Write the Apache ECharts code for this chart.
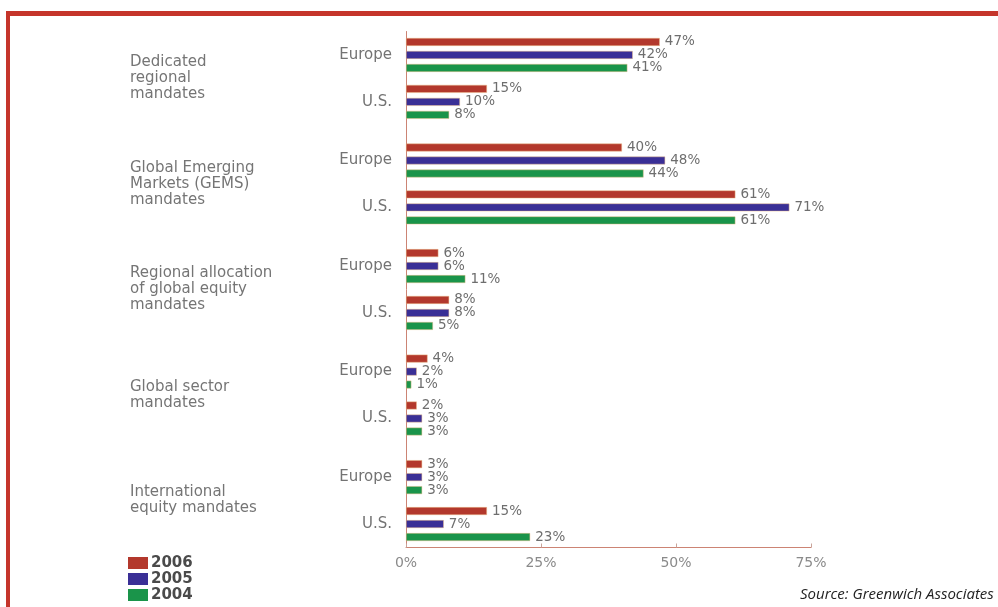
<!DOCTYPE html>
<html>
<head>
<meta charset="utf-8">
<script src="https://cdn.jsdelivr.net/npm/echarts@6/dist/echarts.min.js"></script>
<style>
html,body{margin:0;padding:0;background:#fff;}
#chart{width:998px;height:607px;}
</style>
</head>
<body>
<div id="chart"></div>
<script>
// ---- data ----
const groups = [
  'Dedicated\nregional\nmandates',
  'Global Emerging\nMarkets (GEMS)\nmandates',
  'Regional allocation\nof global equity\nmandates',
  'Global sector\nmandates',
  'International\nequity mandates'
];
const regions = ['Europe', 'U.S.'];
const years = ['2006', '2005', '2004'];
// order: group1 Europe, group1 U.S., group2 Europe, ...
const v2006 = [47, 15, 40, 61, 6, 8, 4, 2, 3, 15];
const v2005 = [42, 10, 48, 71, 6, 8, 2, 3, 3, 7];
const v2004 = [41, 8, 44, 61, 11, 5, 1, 3, 3, 23];
const xTicks = [0, 25, 50, 75];
const colors = ['#b3382c', '#3a2f96', '#1a944a'];

// ---- build padded category slots (uneven spacing between groups) ----
const SLOTS_PER_GROUP = 9;
const N = groups.length * SLOTS_PER_GROUP;
function slotOf(g, r) { return 2 + g * SLOTS_PER_GROUP + r * 4; }
const regionCats = new Array(N).fill('');
const groupCats = new Array(N).fill('');
groups.forEach((gname, g) => {
  regions.forEach((rname, r) => { regionCats[slotOf(g, r)] = rname; });
  groupCats[2 + g * SLOTS_PER_GROUP + 2] = gname;
});
function pad(vals) {
  const arr = new Array(N).fill('-');
  vals.forEach((v, i) => {
    const g = Math.floor(i / regions.length), r = i % regions.length;
    arr[slotOf(g, r)] = v;
  });
  return arr;
}
const allVals = [v2006, v2005, v2004];

const axisColor = '#cc8474';
const chart = echarts.init(document.getElementById('chart'));
chart.setOption({
  backgroundColor: '#ffffff',
  animation: false,
  grid: { left: 406, top: 31.5, width: 405, height: 516, containLabel: false },
  xAxis: {
    type: 'value', min: 0, max: 75, interval: 25,
    axisLine: { show: true, lineStyle: { color: axisColor, width: 1 } },
    axisTick: { show: true, inside: true, length: 4, lineStyle: { color: '#c9a49a' } },
    splitLine: { show: false },
    axisLabel: {
      formatter: v => xTicks.includes(v) ? v + '%' : '',
      color: '#8a8a8a', fontSize: 14, fontFamily: 'DejaVu Sans', margin: 9
    }
  },
  yAxis: [
    {
      type: 'category', inverse: true, boundaryGap: false, data: regionCats,
      axisLine: { show: true, lineStyle: { color: axisColor, width: 1 } },
      axisTick: { show: false },
      axisLabel: { interval: 0, color: '#737373', fontSize: 15, fontFamily: 'DejaVu Sans', margin: 14 }
    },
    {
      type: 'category', inverse: true, boundaryGap: false, data: groupCats,
      position: 'left', offset: 276,
      axisLine: { show: false }, axisTick: { show: false },
      axisLabel: {
        interval: 0, align: 'left', margin: 0, color: '#757575',
        fontSize: 15, lineHeight: 16, fontFamily: 'DejaVu Sans'
      }
    }
  ],
  legend: {
    data: years, orient: 'vertical', left: 128, top: 555, padding: 0,
    itemWidth: 20, itemHeight: 12, itemGap: 0, icon: 'rect',
    itemStyle: { borderWidth: 0 },
    textStyle: { color: '#4a4a4a', fontSize: 15, fontWeight: 'bold', lineHeight: 16, fontFamily: 'DejaVu Sans', padding: [0, 0, 0, -2] }
  },
  series: years.map((y, i) => ({
    name: y, type: 'bar', yAxisIndex: 0,
    data: pad(allVals[i]),
    barWidth: 8, barGap: '62.5%',
    itemStyle: { color: colors[i], borderColor: 'rgba(235,190,140,0.8)', borderWidth: 0.6 },
    label: {
      show: true, position: 'right', distance: 5, formatter: '{c}%',
      color: '#6e6e6e', fontSize: 13.5, fontFamily: 'DejaVu Sans'
    }
  })),
  graphic: [
    { type: 'rect', shape: { x: 6, y: 11, width: 992, height: 5 }, style: { fill: '#c5352b' } },
    { type: 'rect', shape: { x: 6, y: 11, width: 4, height: 596 }, style: { fill: '#c5352b' } },
    { type: 'text', left: 800, top: 587,
      style: { text: 'Source: Greenwich Associates', fill: '#222', font: 'italic 15px "Open Sans"' } }
  ]
});
</script>
</body>
</html>
